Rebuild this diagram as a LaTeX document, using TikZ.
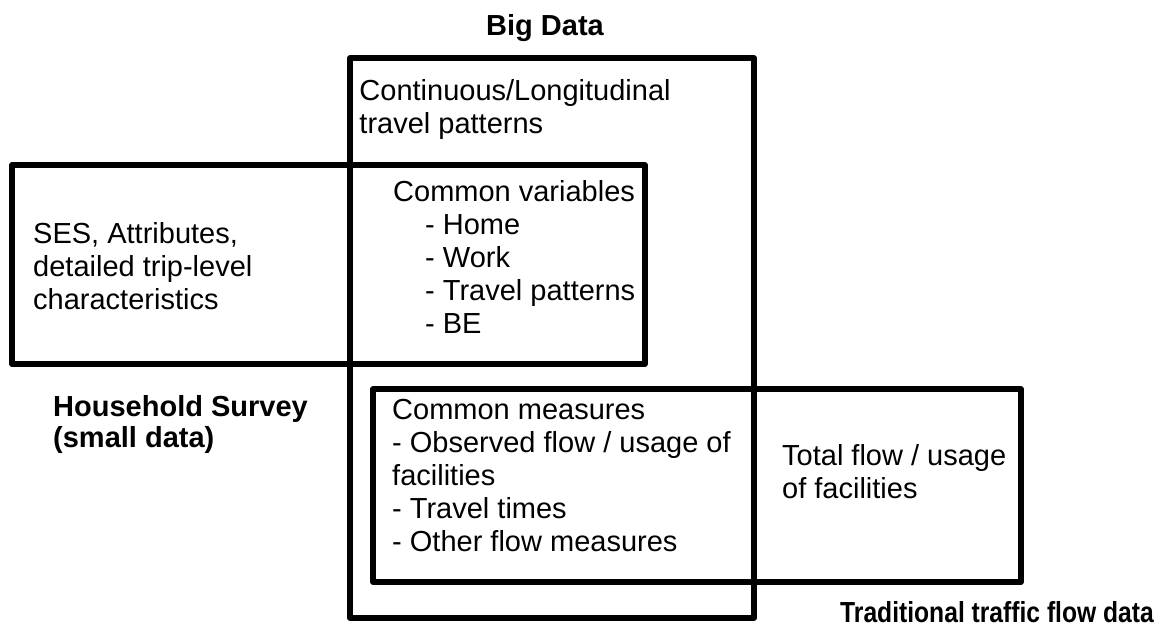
\documentclass[tikz,border=0pt]{standalone}
\usepackage{fontspec}
\setmainfont{Liberation Sans}
\usetikzlibrary{positioning}

\begin{document}
\begin{tikzpicture}[
        x=1pt, y=-1pt,
        region/.style={rectangle, draw=black, line width=5.5pt, line join=round, inner sep=0pt},
        txt/.style={inner sep=0pt, anchor=north west, align=left, font=\fontsize{29}{33}\selectfont},
        title/.style={inner sep=0pt, anchor=north west, align=left, font=\fontsize{29}{31}\selectfont\bfseries}
    ]
        \useasboundingbox (0,0) rectangle (1165,633);

        % Data sources
        \node[region, minimum width=404pt, minimum height=560pt] (bigdata) at (552,338) {};
        \node[region, minimum width=633pt, minimum height=199pt] (household) at (328.5,264.5) {};
        \node[region, minimum width=648pt, minimum height=193pt] (traffic) at (697,485.5) {};

        % Titles
        \node[title, anchor=center] (bigtitle) at (545,28) {Big Data};
        \node[title] (hhtitle) at (53,395) {Household Survey\\(small data)};
        \node[title] (tftitle) at (840,601) {\scalebox{0.85}[1]{Traditional traffic flow data}};

        % Contents
        \node[txt, below right=24pt and 12pt of bigdata.north west] (contlong) {Continuous/Longitudinal\\travel patterns};
        \node[txt] (sesattr) at (33,222) {SES, Attributes,\\detailed trip-level\\characteristics};
        \node[txt] (commonvar) at (393,180) {Common variables\\
            \hspace*{32pt}- Home\\
            \hspace*{32pt}- Work\\
            \hspace*{32pt}- Travel patterns\\
            \hspace*{32pt}- BE};
        \node[txt] (commonmeas) at (392,399) {Common measures\\- Observed flow / usage of\\facilities\\- Travel times\\- Other flow measures};
        \node[txt] (totalflow) at (782,444) {Total flow / usage\\of facilities};
    \end{tikzpicture}
\end{document}
